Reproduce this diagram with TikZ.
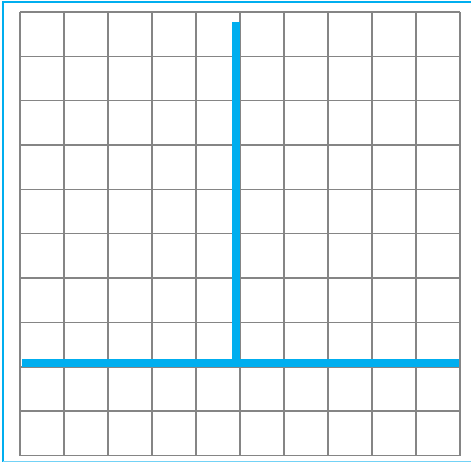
\documentclass[tikz,border=0pt]{standalone}
\definecolor{skyblue}{HTML}{00AEEF}
\definecolor{gridgray}{HTML}{858585}
\tikzset{
  gridline/.style={draw=gridgray, line width=1.4pt},
  frameline/.style={draw=skyblue, line width=2pt},
  axisline/.style={draw=skyblue, line width=8pt}
}
\begin{document}
\begin{tikzpicture}[x=1pt,y=-1pt]
\useasboundingbox (0,0) rectangle (471,464);
\fill[white] (0,0) rectangle (471,464);
\draw[frameline] (471,1.5) -- (3,1.5) -- (3,461.5);
\draw[frameline, draw=skyblue!55, line width=1.2pt] (3,461.5) -- (471,461.5);
\foreach \i in {0,...,10} {
  \draw[gridline] ({20+44*\i},12) -- ({20+44*\i},455.5);
  \draw[gridline] (20,{12+44.35*\i}) -- (460,{12+44.35*\i});
}
\coordinate (hl) at (22,363);
\coordinate (hr) at (459,363);
\coordinate (vt) at (236.3,21.5);
\coordinate (vb) at (236.3,363);
\draw[axisline] (hl) -- (hr);
\draw[axisline] (vt) -- (vb);
\end{tikzpicture}
\end{document}
